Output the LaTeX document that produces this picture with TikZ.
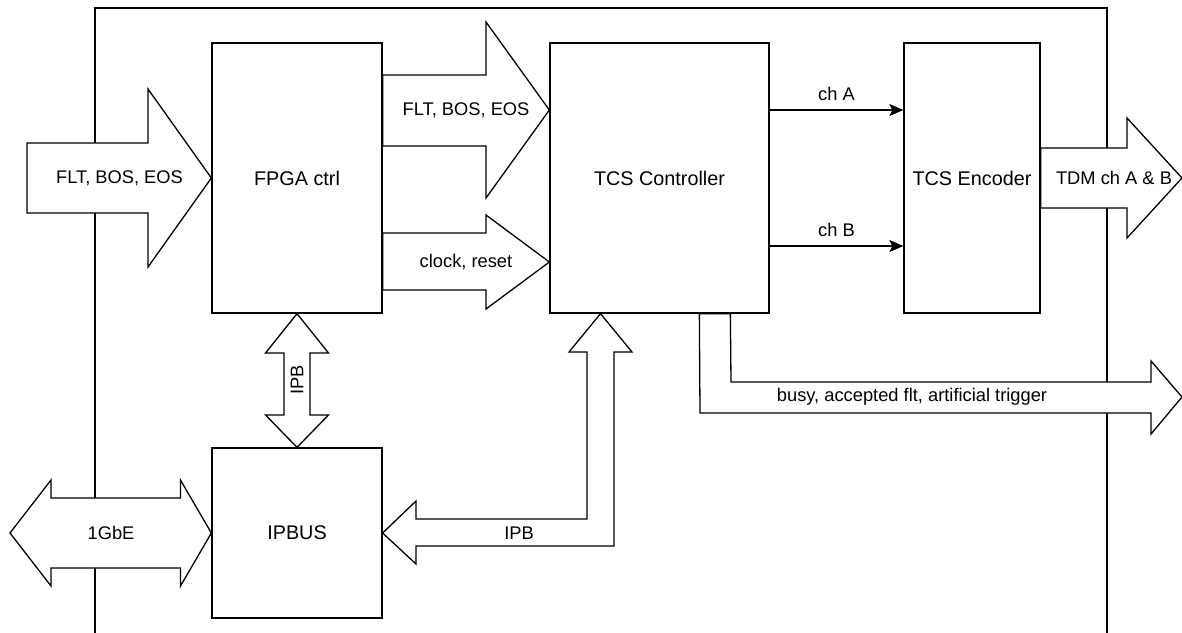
\documentclass[tikz,border=0pt]{standalone}
\usepackage{fontspec}
\setmainfont{Liberation Sans}
\usetikzlibrary{calc,arrows.meta}
\begin{document}
\begin{tikzpicture}[x=1pt,y=-1pt,
  box/.style={draw, line width=1.3pt, fill=white, inner sep=0pt, font=\fontsize{19.8}{23}\selectfont},
  fat/.style={draw, line width=1.3pt, fill=white, line join=miter},
  lbl/.style={font=\fontsize{18.3}{21}\selectfont, inner sep=0pt},
  sig/.style={line width=1.3pt, -{Stealth[length=14pt,width=12pt,inset=3pt]}}]
\useasboundingbox (0,0) rectangle (1182,632);
% outer frame
\coordinate (fbl) at (95,650);
\coordinate (ftl) at (95,8);
\coordinate (ftr) at (1107,8);
\coordinate (fbr) at (1107,650);
\draw[line width=1.3pt] (fbl) -- (ftl) -- (ftr) -- (fbr);
% blocks
\node[box, minimum width=170pt, minimum height=270pt] (fpga) at (297,178) {FPGA ctrl};
\node[box, minimum width=219pt, minimum height=270pt] (tcs) at (659.5,178) {TCS Controller};
\node[box, minimum width=136pt, minimum height=270pt] (enc) at (972,178) {TCS Encoder};
\node[box, minimum width=170pt, minimum height=170pt] (ipbus) at (297,533) {IPBUS};
% input fat arrow
\draw[fat] (27,143) -- (148,143) -- (148,89) -- (fpga.west) -- (148,267) -- (148,213) -- (27,213) -- cycle;
\node[lbl] (lin) at (119.5,178) {FLT, BOS, EOS};
% FPGA -> TCS fat arrows
\draw[fat] ([yshift=103pt]fpga.east) -- (486,75) -- (486,22) -- ([yshift=68pt]tcs.west) -- (486,198) -- (486,146) -- ([yshift=32pt]fpga.east) -- cycle;
\node[lbl] (lflt) at (466,110) {FLT, BOS, EOS};
\draw[fat] ([yshift=-55pt]fpga.east) -- (486,233) -- (486,215) -- ([yshift=-84pt]tcs.west) -- (486,309) -- (486,290) -- ([yshift=-112pt]fpga.east) -- cycle;
\node[lbl] (lclk) at (466,262) {clock, reset};
% TCS -> Encoder
\draw[sig] ([yshift=68pt]tcs.east) -- ([yshift=68pt]enc.west) node[lbl, midway, above=9pt] (lcha) {ch A};
\draw[sig] ([yshift=-68pt]tcs.east) -- ([yshift=-68pt]enc.west) node[lbl, midway, above=9pt] (lchb) {ch B};
% Encoder output
\draw[fat] ([yshift=30pt]enc.east) -- (1127,148) -- (1127,118) -- (1182,178) -- (1127,238) -- (1127,208) -- ([yshift=-30pt]enc.east) -- cycle;
\node[lbl] (ltdm) at (1114,178) {TDM ch A \& B};
% IPB FPGA <-> IPBUS
\draw[fat] (fpga.south) -- (328.5,353) -- (310,353) -- (310,415) -- (328.5,415) -- (ipbus.north) -- (265.5,415) -- (284,415) -- (284,353) -- (265.5,353) -- cycle;
\node[lbl, rotate=90] (lipb1) at (297,380) {IPB};
% 1GbE
\draw[fat] (10,533) -- (51,480) -- (51,498) -- (180.5,498) -- (180.5,480) -- (ipbus.west) -- (180.5,586) -- (180.5,568) -- (51,568) -- (51,586) -- cycle;
\node[lbl] (lgbe) at (111,533) {1GbE};
% IPB TCS -> IPBUS (bent)
\draw[fat] (ipbus.east) -- (416,501) -- (416,519) -- (587,519) -- (587,352) -- (569,352) -- ([xshift=-59pt]tcs.south) -- (632,352) -- (614,352) -- (614,546) -- (416,546) -- (416,564) -- cycle;
\node[lbl] (lipb2) at (519,533) {IPB};
% busy output
\draw[fat] ([xshift=150pt]tcs.south west) -- ([xshift=181pt]tcs.south west) -- (731,382) -- (1151,382) -- (1151,361) -- (1182,397) -- (1151,434) -- (1151,413) -- (700,413) -- cycle;
\node[lbl] (lbusy) at (912,397) {busy, accepted flt, artificial trigger};
\end{tikzpicture}
\end{document}
